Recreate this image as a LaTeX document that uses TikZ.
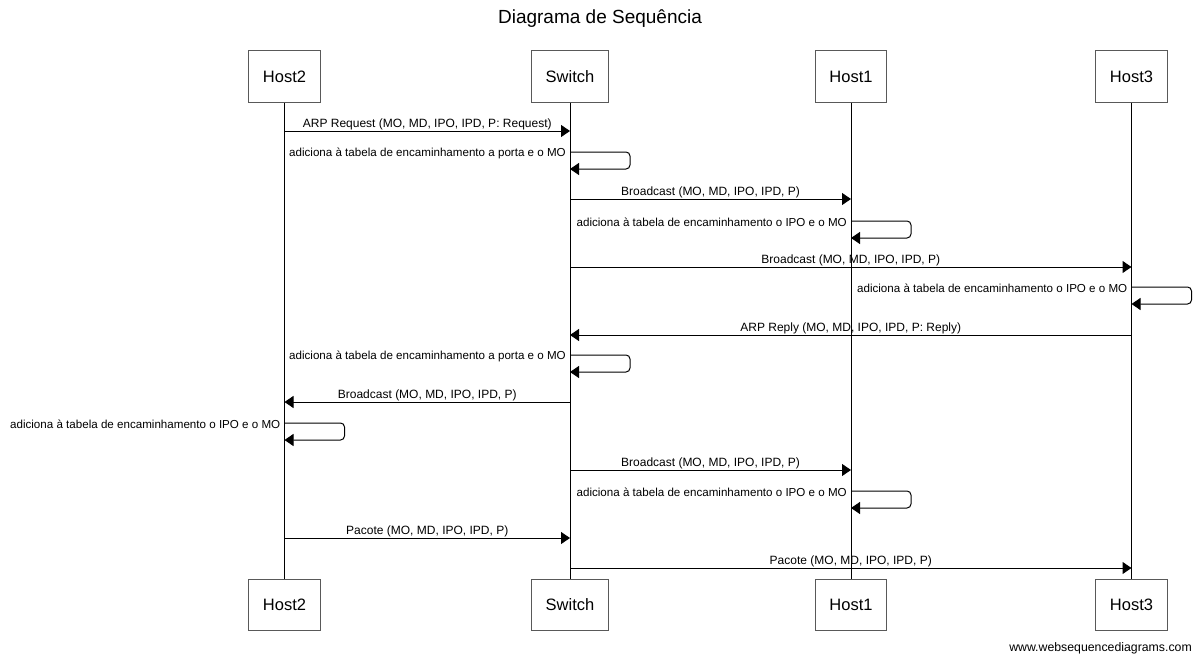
\documentclass[tikz,border=0pt]{standalone}
\usepackage{fontspec}
\setmainfont{Liberation Sans}
\usetikzlibrary{arrows.meta}

\begin{document}
\begin{tikzpicture}[
      x=1pt,y=-1pt,
      actor/.style={draw=black!65,line width=1pt,minimum height=51pt,inner xsep=14pt,
        font=\fontsize{16.5}{19}\selectfont},
      life/.style={line width=1pt},
      msg/.style={-{Triangle[length=9pt,width=12pt]},line width=1pt},
      lbl/.style={font=\fontsize{12}{14}\selectfont,inner sep=0pt},
      selflbl/.style={font=\fontsize{11.6}{14}\selectfont,inner sep=0pt}
    ]
      \useasboundingbox (0,0) rectangle (1200,661);
      \node[font=\fontsize{19}{22}\selectfont] (title) at (600,19) {Diagrama de Sequência};
      % participants, top and bottom
      \foreach \n/\x/\txt in {h2/284.5/Host2,sw/570/Switch,h1/851/Host1,h3/1131.5/Host3} {
        \node[actor] (\n top) at (\x,76.5) {\txt};
        \node[actor] (\n bot) at (\x,605) {\txt};
        \draw[life] (\n top) -- (\n bot);
      }
      % messages between lifelines
      \foreach \y/\from/\to/\txt in {
          131/h2top/swtop/{ARP Request (MO, MD, IPO, IPD, P: Request)},
          199/swtop/h1top/{Broadcast (MO, MD, IPO, IPD, P)},
          267/swtop/h3top/{Broadcast (MO, MD, IPO, IPD, P)},
          335/h3top/swtop/{ARP Reply (MO, MD, IPO, IPD, P: Reply)},
          402/swtop/h2top/{Broadcast (MO, MD, IPO, IPD, P)},
          470/swtop/h1top/{Broadcast (MO, MD, IPO, IPD, P)},
          538/h2top/swtop/{Pacote (MO, MD, IPO, IPD, P)},
          568/swtop/h3top/{Pacote (MO, MD, IPO, IPD, P)}} {
        \coordinate (m\y a) at (\from |- 0,\y);
        \coordinate (m\y b) at (\to |- 0,\y);
        \draw[msg] (m\y a) -- node[lbl,anchor=base,yshift=4pt] {\txt} (m\y b);
      }
      % self messages
      \foreach \y/\who/\txt in {
          152/swtop/{adiciona à tabela de encaminhamento a porta e o MO},
          221/h1top/{adiciona à tabela de encaminhamento o IPO e o MO},
          287/h3top/{adiciona à tabela de encaminhamento o IPO e o MO},
          355/swtop/{adiciona à tabela de encaminhamento a porta e o MO},
          423/h2top/{adiciona à tabela de encaminhamento o IPO e o MO},
          491/h1top/{adiciona à tabela de encaminhamento o IPO e o MO}} {
        \coordinate (s\y a) at (\who |- 0,\y);
        \coordinate (s\y b) at (\who |- 0,\y+17);
        \draw[msg,rounded corners=4pt] (s\y a) -- ++(60,0) |- (s\y b);
        \node[selflbl,anchor=east,xshift=-4pt,yshift=-1pt] (s\y t) at (s\y a) {\txt};
      }
      \node[lbl,font=\fontsize{12.3}{14}\selectfont,anchor=base east] (site) at (1192,651) {www.websequencediagrams.com};
    \end{tikzpicture}
\end{document}
